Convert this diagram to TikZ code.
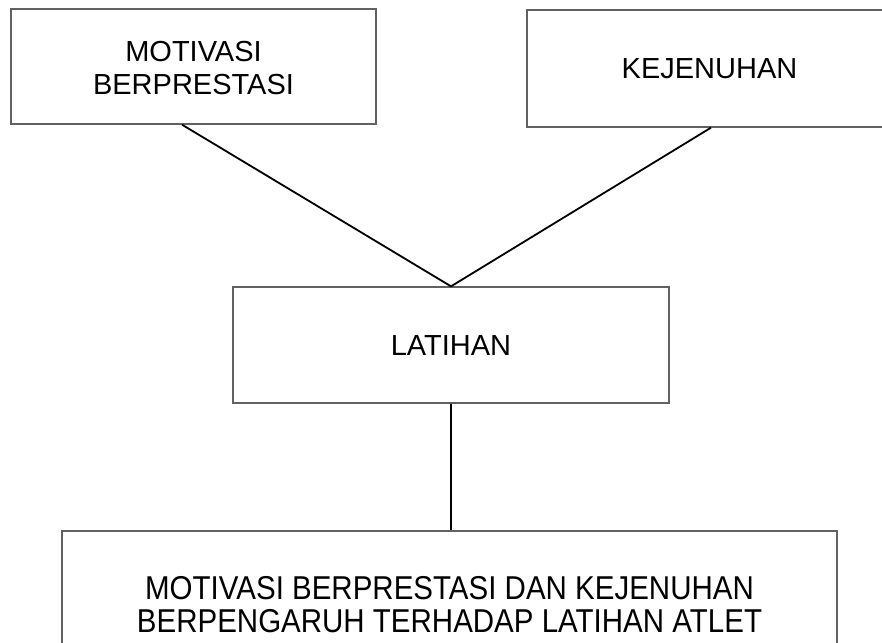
\documentclass[tikz,border=0pt]{standalone}
\usepackage{fontspec}
\usepackage{graphicx}
\setmainfont{Liberation Sans}
\begin{document}
\begin{tikzpicture}[x=1pt,y=-1pt,
  box/.style={draw=black!62, line width=1.3pt, inner sep=0pt},
  lbl/.style={font=\fontsize{29}{33}\selectfont, align=center, inner sep=0pt},
  conn/.style={draw=black, line width=1.8pt}]
\useasboundingbox[fill=white] (0,0) rectangle (882,642);
\node[box, minimum width=365pt, minimum height=115pt] (b1) at (193.5,66.5) {};
\node[box, minimum width=365pt, minimum height=117pt] (b2) at (709.5,68.5) {};
\node[box, minimum width=436pt, minimum height=116pt] (b3) at (451,345) {};
\node[box, minimum width=775pt, minimum height=129pt] (b4) at (449.5,595.5) {};
\node[lbl] (t1) at (193.5,68.5) {MOTIVASI\\BERPRESTASI};
\node[lbl] (t2) at (709.5,69) {KEJENUHAN};
\node[lbl] (t3) at (451,346) {LATIHAN};
\node[inner sep=0pt] (t4) at (449.5,609) {\fontsize{29.5}{27.7}\selectfont\scalebox{1}[1.12]{\begin{tabular}{@{}c@{}}MOTIVASI BERPRESTASI DAN KEJENUHAN\\BERPENGARUH TERHADAP LATIHAN ATLET\end{tabular}}};
\draw[conn] ([xshift=-11.5pt]b1.south) -- (b3.north);
\draw[conn] ([xshift=1.5pt]b2.south) -- (b3.north);
\draw[conn] (b3.south) -- (b3.south |- b4.north);
\end{tikzpicture}
\end{document}
